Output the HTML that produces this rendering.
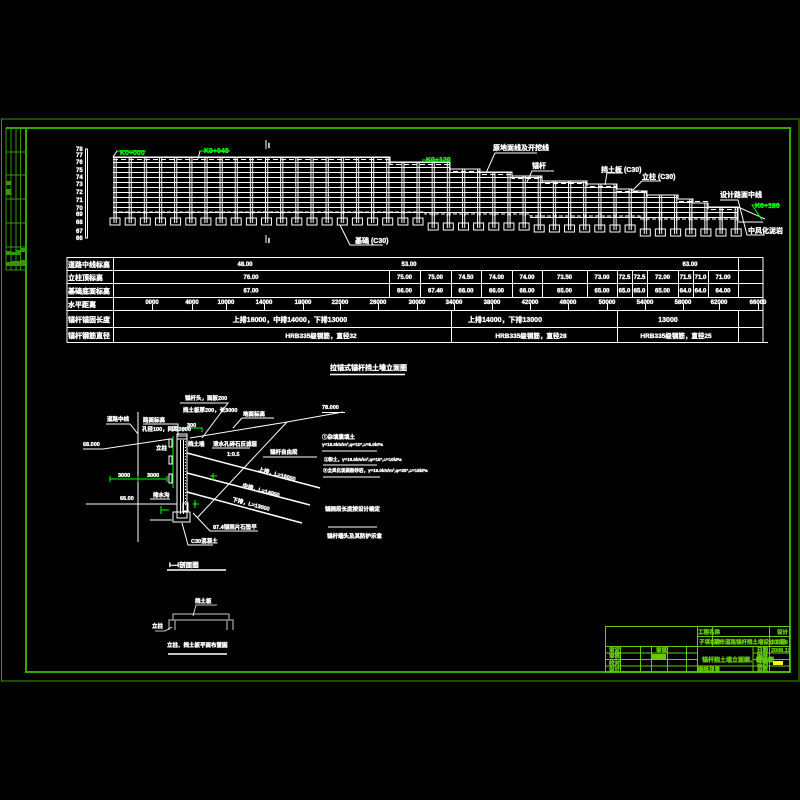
<!DOCTYPE html>
<html><head><meta charset="utf-8"><style>
html,body{margin:0;padding:0;background:#000;}
svg{display:block}
text{font-family:"Liberation Sans","Noto Sans CJK SC",sans-serif;font-weight:bold;fill:#fff;stroke:#fff;stroke-width:0.35}
.g{fill:#00ff00;stroke:#00ff00}
.t{fill:#66cc00;stroke:#66cc00}
</style></head><body>
<svg width="800" height="800" viewBox="0 0 800 800" xmlns="http://www.w3.org/2000/svg">
<rect width="800" height="800" fill="#000"/>
<defs>
<pattern id="wp" x="113.5" y="157" width="15.15" height="5" patternUnits="userSpaceOnUse">
<rect x="0" y="0" width="15.15" height="1" fill="#fff"/>
<rect x="0" y="0" width="1" height="5" fill="#fff"/>
<rect x="2.2" y="0" width="1" height="5" fill="#fff"/>
</pattern>
<pattern id="pp" x="113.5" y="0" width="15.15" height="5" patternUnits="userSpaceOnUse">
<rect x="0" y="0" width="1" height="5" fill="#fff"/>
<rect x="2.2" y="0" width="1" height="5" fill="#fff"/>
</pattern>
</defs>

<!-- frame -->
<rect x="1.5" y="119" width="797.5" height="562" fill="none" stroke="#339900" stroke-width="1"/>
<path d="M6,128 H790 V672 H26 V128" fill="none" stroke="#33aa00" stroke-width="2"/>
<g stroke="#339900" stroke-width="1">
<line x1="6" y1="128" x2="6" y2="270"/><line x1="11" y1="128" x2="11" y2="270"/>
<line x1="16" y1="128" x2="16" y2="270"/><line x1="20.5" y1="128" x2="20.5" y2="270"/>
<line x1="6" y1="152" x2="26" y2="152"/><line x1="6" y1="175" x2="26" y2="175"/>
<line x1="6" y1="199" x2="26" y2="199"/><line x1="6" y1="223" x2="26" y2="223"/>
<line x1="6" y1="247" x2="26" y2="247"/><line x1="6" y1="270" x2="26" y2="270"/>
</g>
<g fill="#339900">
<rect x="6" y="181" width="5" height="4"/><rect x="6" y="189" width="5" height="6"/>
<rect x="6" y="251" width="5" height="4"/><rect x="11" y="252" width="5" height="3"/><rect x="16" y="250" width="5" height="5"/><rect x="21" y="248" width="4" height="4"/>
<rect x="6" y="262" width="5" height="4"/><rect x="11" y="261" width="5" height="5"/><rect x="16" y="261" width="5" height="5"/><rect x="21" y="260" width="4" height="6"/>
</g>

<!-- elevation scale -->
<g font-size="6">
<text x="76" y="151">78</text><text x="76" y="157">77</text><text x="76" y="164">76</text>
<text x="76" y="172">75</text><text x="76" y="179">74</text><text x="76" y="186">73</text>
<text x="76" y="194">72</text><text x="76" y="202">71</text><text x="76" y="210">70</text>
<text x="76" y="216">69</text><text x="76" y="224">68</text><text x="76" y="233">67</text>
<text x="76" y="240">66</text>
</g>
<rect x="85.5" y="149" width="2" height="89" fill="none" stroke="#fff" stroke-width="1"/>

<!-- wall elevation -->
<polygon points="113,157 390,157 390,162 450,162 450,169 480,169 480,172 512,172 512,176 542,176 542,181 587,181 587,184 617,184 617,189 632,189 632,191 647,191 647,195 678,195 678,199 693,199 693,203 708,203 708,207 738,207 738,221 640,221 640,218 530,218 530,216 425,216 425,214 113,214" fill="url(#wp)"/>
<polyline points="113,157 390,157 390,162 450,162 450,169 480,169 480,172 512,172 512,176 542,176 542,181 587,181 587,184 617,184 617,189 632,189 632,191 647,191 647,195 678,195 678,199 693,199 693,203 708,203 708,207 738,207 738,221" fill="none" stroke="#fff" stroke-width="1"/>
<polyline points="113,159.5 390,159.5 390,164.5 450,164.5 450,171.5 480,171.5 480,174.5 512,174.5 512,178.5 542,178.5 542,183.5 587,183.5 587,186.5 617,186.5 617,191.5 647,191.5 647,197.5 678,197.5 678,201.5 708,201.5 708,209.5 736,209.5" fill="none" stroke="#fff" stroke-width="1" stroke-dasharray="5 3"/>
<polygon points="113,213 740,213 740,234 637,234 637,230 530,230 530,228 425,228 425,223 113,223" fill="url(#pp)"/>
<polyline points="113,212 425,212 425,214 530,214 530,216 640,216 640,219 738,219" fill="none" stroke="#fff" stroke-width="1" stroke-dasharray="4 2"/>
<g fill="none" stroke="#fff" stroke-width="1">
<rect x="110" y="218" width="10" height="7"/><rect x="125.2" y="218" width="10" height="7"/><rect x="140.3" y="218" width="10" height="7"/><rect x="155.5" y="218" width="10" height="7"/><rect x="170.6" y="218" width="10" height="7"/><rect x="185.8" y="218" width="10" height="7"/><rect x="200.9" y="218" width="10" height="7"/><rect x="216.1" y="218" width="10" height="7"/><rect x="231.2" y="218" width="10" height="7"/><rect x="246.4" y="218" width="10" height="7"/><rect x="261.5" y="218" width="10" height="7"/><rect x="276.7" y="218" width="10" height="7"/><rect x="291.8" y="218" width="10" height="7"/><rect x="307" y="218" width="10" height="7"/><rect x="322.1" y="218" width="10" height="7"/><rect x="337.3" y="218" width="10" height="7"/><rect x="352.4" y="218" width="10" height="7"/><rect x="367.6" y="218" width="10" height="7"/><rect x="382.7" y="218" width="10" height="7"/><rect x="397.9" y="218" width="10" height="7"/><rect x="413" y="218" width="10" height="7"/>
<rect x="428.2" y="223" width="10" height="7"/><rect x="443.3" y="223" width="10" height="7"/><rect x="458.5" y="223" width="10" height="7"/><rect x="473.6" y="223" width="10" height="7"/><rect x="488.8" y="223" width="10" height="7"/><rect x="503.9" y="223" width="10" height="7"/><rect x="519.1" y="223" width="10" height="7"/>
<rect x="534.2" y="225" width="10" height="7"/><rect x="549.4" y="225" width="10" height="7"/><rect x="564.5" y="225" width="10" height="7"/><rect x="579.7" y="225" width="10" height="7"/><rect x="594.8" y="225" width="10" height="7"/><rect x="610" y="225" width="10" height="7"/><rect x="625.1" y="225" width="10" height="7"/>
<rect x="640.3" y="229" width="10" height="7"/><rect x="655.4" y="229" width="10" height="7"/><rect x="670.6" y="229" width="10" height="7"/><rect x="685.7" y="229" width="10" height="7"/><rect x="700.9" y="229" width="10" height="7"/><rect x="716" y="229" width="10" height="7"/><rect x="731.2" y="229" width="10" height="7"/>
</g>

<!-- elevation labels -->
<g stroke="#fff" stroke-width="1" fill="none">
<polyline points="113,157 117,151 146,151"/>
<polyline points="198,159 200,151 230,151"/>
<line x1="422" y1="160" x2="450" y2="160"/>
<polyline points="486,173 495,153 537,153"/>
<polyline points="527,182 532,171 554,171"/>
<polyline points="605,185 607,173 623,173"/>
<polyline points="633,190 642,181 661,181"/>
<polyline points="720,200 738,200 747,235 765,235"/>
<line x1="738" y1="207" x2="765" y2="219"/>
<line x1="738" y1="222" x2="763" y2="222"/>
<polyline points="340,225 350,245 383,245"/>
<line x1="266" y1="140" x2="266" y2="149"/>
<line x1="266" y1="235" x2="266" y2="243"/>
</g>
<g stroke="#00ff00" stroke-width="1" fill="none">
<line x1="117" y1="151" x2="146" y2="151"/>
<line x1="200" y1="151" x2="230" y2="151"/>
<line x1="422" y1="160" x2="450" y2="160"/>
<polyline points="762,220 752,205 780,205"/>
</g>
<g font-size="7">
<text class="g" x="120" y="155">K0+000</text>
<text class="g" x="204" y="153">K0+040</text>
<text class="g" x="426" y="162">K0+120</text>
<text class="g" x="755" y="208">K0+180</text>
<text x="493" y="150">原地面线及开挖线</text>
<text x="532" y="168">锚杆</text>
<text x="601" y="172">挡土板 (C30)</text>
<text x="642" y="179">立柱 (C30)</text>
<text x="720" y="197">设计路面中线</text>
<text x="748" y="233">中风化泥岩</text>
<text x="355" y="243">基础 (C30)</text>
<text x="268" y="148">I</text>
<text x="268" y="243">I</text>
</g>

<!-- table -->
<g stroke="#fff" stroke-width="1" fill="none">
<rect x="67" y="257.5" width="696" height="85"/>
<line x1="67" y1="270.5" x2="763" y2="270.5"/>
<line x1="67" y1="283.5" x2="763" y2="283.5"/>
<line x1="67" y1="297.5" x2="763" y2="297.5"/>
<line x1="67" y1="310.5" x2="763" y2="310.5"/>
<line x1="67" y1="327.5" x2="763" y2="327.5"/>
<line x1="763" y1="342.5" x2="768" y2="342.5"/>
<line x1="113.5" y1="257" x2="113.5" y2="343"/>
<line x1="738.5" y1="257" x2="738.5" y2="297"/>
<line x1="738.5" y1="310" x2="738.5" y2="343"/>
<line x1="451.5" y1="310" x2="451.5" y2="343"/>
<line x1="617.5" y1="310" x2="617.5" y2="343"/>
<path d="M389.5,270V297 M420.5,270V297 M451.5,270V297 M481.5,270V297 M512.5,270V297 M542.5,270V297 M587.5,270V297 M617.5,270V297 M632.5,270V297 M647.5,270V297 M678.5,270V297 M693.5,270V297 M708.5,270V297"/>
<path d="M152.5,304V310 M192.5,304V310 M226.5,304V310 M264.5,304V310 M303.5,304V310 M340.5,304V310 M378.5,304V310 M417.5,304V310 M454.5,304V310 M492.5,304V310 M530.5,304V310 M568.5,304V310 M607.5,304V310 M645.5,304V310 M683.5,304V310 M719.5,304V310 M758.5,304V310"/>
</g>
<g font-size="7">
<text x="68" y="267">道路中线标高</text>
<text x="68" y="280">立柱顶标高</text>
<text x="68" y="293.5">基础底面标高</text>
<text x="68" y="307">水平距离</text>
<text x="68" y="322">锚杆锚固长度</text>
<text x="68" y="338">锚杆钢筋直径</text>
</g>
<g font-size="6" text-anchor="middle">
<text x="245" y="266">48.00</text><text x="409" y="266">53.00</text><text x="690" y="266">63.00</text>
<text x="251" y="279">76.00</text><text x="404.5" y="279">75.00</text><text x="435.5" y="279">75.00</text><text x="466" y="279">74.50</text><text x="496.5" y="279">74.00</text><text x="527" y="279">74.00</text><text x="564.5" y="279">73.50</text><text x="602" y="279">73.00</text><text x="624.5" y="279">72.5</text><text x="639.5" y="279">72.5</text><text x="662.5" y="279">72.00</text><text x="685.5" y="279">71.5</text><text x="700.5" y="279">71.0</text><text x="723" y="279">71.00</text>
<text x="251" y="292.5">67.00</text><text x="404.5" y="292.5">66.00</text><text x="435.5" y="292.5">67.40</text><text x="466" y="292.5">66.00</text><text x="496.5" y="292.5">66.00</text><text x="527" y="292.5">66.00</text><text x="564.5" y="292.5">65.00</text><text x="602" y="292.5">65.00</text><text x="624.5" y="292.5">65.0</text><text x="639.5" y="292.5">65.0</text><text x="662.5" y="292.5">65.00</text><text x="685.5" y="292.5">64.0</text><text x="700.5" y="292.5">64.0</text><text x="723" y="292.5">64.00</text>
<text x="152" y="304">0000</text><text x="192" y="304">4000</text><text x="226" y="304">10000</text><text x="264" y="304">14000</text><text x="303" y="304">18000</text><text x="340" y="304">22000</text><text x="378" y="304">26000</text><text x="417" y="304">30000</text><text x="454" y="304">34000</text><text x="492" y="304">38000</text><text x="530" y="304">42000</text><text x="568" y="304">46000</text><text x="607" y="304">50000</text><text x="645" y="304">54000</text><text x="683" y="304">58000</text><text x="719" y="304">62000</text><text x="758" y="304">66000</text>
</g>
<g font-size="7" text-anchor="middle">
<text x="290" y="322">上排16000，中排14000，下排13000</text>
<text x="505" y="322">上排14000，下排13000</text>
<text x="668" y="322">13000</text>
</g>
<g font-size="6.5" text-anchor="middle">
<text x="321" y="338">HRB335级钢筋，直径32</text>
<text x="531" y="338">HRB335级钢筋，直径28</text>
<text x="676" y="338">HRB335级钢筋，直径25</text>
</g>

<!-- cross section -->
<text x="330" y="370" font-size="7">拉锚式锚杆挡土墙立面图</text>
<line x1="330" y1="374.5" x2="405" y2="374.5" stroke="#fff" stroke-width="1.5"/>
<g stroke="#fff" stroke-width="1" fill="none">
<rect x="177" y="436" width="10" height="82"/>
<line x1="180.5" y1="440" x2="180.5" y2="514"/>
<line x1="183.5" y1="440" x2="183.5" y2="514"/>
<rect x="177" y="434" width="10" height="5"/>
<rect x="173" y="512" width="17" height="10"/>
<line x1="185.5" y1="441" x2="185.5" y2="506" stroke-dasharray="1 2"/>
<rect x="169" y="439" width="3" height="8"/><rect x="169" y="456" width="3" height="8"/><rect x="169" y="474" width="3" height="9"/>
<rect x="183" y="503" width="5" height="8"/>
<line x1="138" y1="412" x2="138" y2="542"/>
<polyline points="83,449 103,449 170,439"/>
<polyline points="190,438 287,422 343,412"/>
<line x1="322" y1="412.5" x2="345" y2="412.5"/>
<line x1="197" y1="518" x2="287" y2="422"/>
<line x1="187" y1="453" x2="320" y2="488" stroke-width="1.5"/>
<line x1="187" y1="473" x2="310" y2="505" stroke-width="1.5"/>
<line x1="187" y1="492" x2="302" y2="523" stroke-width="1.5"/>
<line x1="86" y1="504" x2="177" y2="504"/>
<line x1="150" y1="499" x2="170" y2="499"/>
<line x1="150" y1="520" x2="172" y2="520"/>
<polyline points="202,438 228,403 180,403"/>
<polyline points="138,434 130,424 106,424"/>
<polyline points="143,424 178,424 178,435"/>
<polyline points="233,428 242,418 274,418"/>
<line x1="212" y1="448" x2="250" y2="448"/>
<line x1="263" y1="457" x2="317" y2="457"/>
<polyline points="193,513 210,531 258,531"/>
<polyline points="182,523 188,545 213,545"/>
</g>
<g stroke="#00ff00" stroke-width="1" fill="none">
<line x1="173" y1="436" x2="173" y2="488"/>
<line x1="110" y1="479" x2="167" y2="479"/>
<path d="M110,476V482 M138,476V482 M167,476V482"/>
<polyline points="183,432 183,428 202,428 202,432"/>
<path d="M195,500V508 M193,504H199"/>
<path d="M213,473V480 M210,476H217"/>
<path d="M161,506V514 M161,510H169"/>
</g>
<g font-size="5.5">
<text x="185" y="400">锚杆头，面板200</text>
<text x="183" y="412">挡土板厚200，长3000</text>
<text x="107" y="421">道路中线</text>
<text x="143" y="422">路面标高</text>
<text x="142" y="431">孔径100，间距3000</text>
<text x="243" y="416">地面标高</text>
<text x="322" y="409">78.000</text>
<text x="187" y="427">300</text>
<text x="83" y="446">68.000</text>
<text x="188" y="446">挡土墙</text>
<text x="213" y="446">泄水孔碎石反滤层</text>
<text x="227" y="456">1:0.5</text>
<text x="156" y="450">立柱</text>
<text x="270" y="454">锚杆自由段</text>
<text x="118" y="477">3000</text>
<text x="147" y="477">3000</text>
<text x="120" y="500">66.00</text>
<text x="153" y="497">排水沟</text>
<text x="213" y="529">87.4锚固片石垫平</text>
<text x="191" y="543">C30混凝土</text>
<text x="258" y="471" transform="rotate(15 258 471)">上排，L=16000</text>
<text x="242" y="487" transform="rotate(15 242 487)">中排，L=14000</text>
<text x="232" y="501" transform="rotate(15 232 501)">下排，L=13000</text>
<text x="322" y="439">①杂填素填土</text>
<text x="322" y="446" font-size="4.5">γ=18.0kN/m³,φ=10°,c=5.0kPa</text>
<text x="324" y="461" font-size="4.5">②粉土，γ=18.5kN/m³,φ=15°,c=10kPa</text>
<text x="323" y="472" font-size="4.5">③全风化泥质粉砂岩，γ=19.0kN/m³,φ=25°,c=15kPa</text>
<text x="325" y="511">锚固段长度按设计确定</text>
<text x="327" y="538">锚杆端头及其防护示意</text>
</g>
<g stroke="#fff" stroke-width="1">
<line x1="322" y1="451" x2="377" y2="451"/>
<line x1="323" y1="465" x2="377" y2="465"/>
<line x1="323" y1="477" x2="380" y2="477"/>
<line x1="328" y1="527" x2="377" y2="527"/>
</g>

<!-- small detail -->
<text x="169" y="567" font-size="6.5">I—I剖面图</text>
<line x1="167" y1="570" x2="226" y2="570" stroke="#fff" stroke-width="1.5"/>
<g fill="none" stroke="#888" stroke-width="1.5">
<path d="M169,630 V620 H173 V614 H229 V620 H233 V630"/>
<path d="M175,630 V620 M227,630 V620 M173,620 H229"/>
</g>
<g stroke="#fff" stroke-width="0.8" fill="none">
<polyline points="193,616 196,605 217,605"/>
<polyline points="155,631 165,631 172,627"/>
</g>
<g font-size="5.5">
<text x="195" y="603">挡土板</text>
<text x="152" y="628">立柱</text>
<text x="167" y="647">立柱、挡土板平面布置图</text>
</g>
<line x1="168" y1="654" x2="227" y2="654" stroke="#fff" stroke-width="1.5"/>

<!-- title block -->
<g stroke="#66cc00" stroke-width="1" fill="none">
<rect x="605.5" y="626.5" width="184" height="45.5"/>
<line x1="697.5" y1="636.5" x2="789" y2="636.5"/>
<line x1="605.5" y1="646.5" x2="789" y2="646.5"/>
<line x1="605.5" y1="653" x2="697.5" y2="653"/><line x1="753" y1="653" x2="789" y2="653"/>
<line x1="605.5" y1="659.5" x2="697.5" y2="659.5"/><line x1="753" y1="659.5" x2="789" y2="659.5"/>
<line x1="605.5" y1="666" x2="789" y2="666"/>
<line x1="697.5" y1="626" x2="697.5" y2="672"/>
<line x1="712.5" y1="626" x2="712.5" y2="646.5"/><line x1="712.5" y1="666" x2="712.5" y2="672"/>
<line x1="769.5" y1="626" x2="769.5" y2="672"/>
<line x1="753" y1="646.5" x2="753" y2="672"/>
<path d="M620.5,646.5V672 M640.5,646.5V672 M651.5,646.5V672 M667.5,646.5V672 M686.5,646.5V672"/>
</g>
<g font-size="5.5">
<text class="t" x="698" y="634">工程名称</text>
<text class="t" x="777" y="634">设计</text>
<text class="t" x="699" y="644">子项名称</text>
<text class="t" x="714" y="644">某市道路锚杆挡土墙设计工程</text>
<text class="t" x="771" y="644">2008.9</text>
<text class="t" x="609" y="652">审定</text>
<text class="t" x="656" y="652">审核</text>
<text class="t" x="757" y="652">日期</text>
<text class="t" x="771" y="652">2008.11</text>
<text class="t" x="609" y="658">审核</text>
<text class="t" x="609" y="665">校对</text>
<text class="t" x="609" y="671">设计</text>
<text class="t" x="698" y="671">图纸目录</text>
<text class="t" x="757" y="658">图号</text>
<text class="t" x="757" y="665">比例</text>
<text class="t" x="757" y="671">页数</text>
<text class="t" x="702" y="662" font-size="6">锚杆挡土墙立面图、断面图</text>
</g>
<rect x="652" y="654" width="14" height="5" fill="#66cc00"/>
<rect x="773" y="661" width="10" height="4" fill="#ffff00"/>
</svg>
</body></html>
